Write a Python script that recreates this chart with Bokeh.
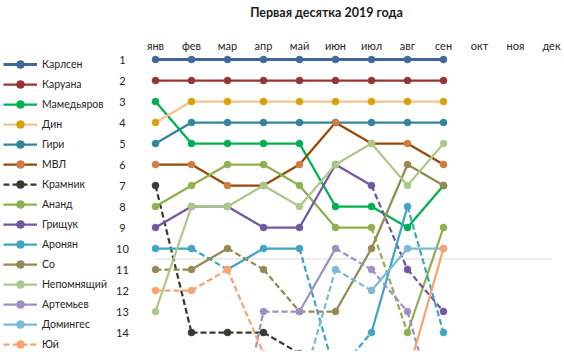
from bokeh.plotting import figure
from bokeh.models import Range1d, ColumnDataSource, Legend, LegendItem, Label
from bokeh.embed import file_html
from bokeh.resources import INLINE
from bokeh.core.properties import value

N = None

title_text = "Первая десятка 2019 года"
months = ["янв", "фев", "мар", "апр", "май", "июн", "июл", "авг", "сен", "окт", "ноя", "дек"]
rank_ticks = [1, 2, 3, 4, 5, 6, 7, 8, 9, 10, 11, 12, 13, 14]
cutoff = 10  # top-10 boundary

players = ["Карлсен", "Каруана", "Мамедьяров", "Дин", "Гири", "МВЛ", "Крамник",
           "Ананд", "Грищук", "Аронян", "Со", "Непомнящий", "Артемьев", "Домингес", "Юй"]

carlsen = [1, 1, 1, 1, 1, 1, 1, 1, 1]
caruana = [2, 2, 2, 2, 2, 2, 2, 2, 2]
mamedyarov = [3, 5, 5, 5, 5, 8, 8, 9, 7]
ding = [4, 3, 3, 3, 3, 3, 3, 3, 3]
giri = [5, 4, 4, 4, 4, 4, 4, 4, 4]
mvl = [6, 6, 7, 7, 6, 4, 5, 5, 6]
kramnik = [7, 14, 14, 14, 15, N, N, N, N]
anand = [8, 7, 6, 6, 7, 9, 9, 14, 9]
grischuk = [9, 8, 8, 9, 9, 6, 7, 11, 13]
aronian = [10, 10, 11, 10, 10, 16, 14, 8, 14]
so = [11, 11, 10, 11, 13, 13, 10, 6, 7]
nepo = [13, 8, 8, 7, 8, 6, 5, 7, 5]
artemiev = [N, N, 21, 13, 13, 10, 11, 13, 19]
dominguez = [N, N, N, N, 17, 11, 12, 10, 10]
yu = [12, 12, 11, 15, N, N, N, 16, 10]

series = [carlsen, caruana, mamedyarov, ding, giri, mvl, kramnik, anand,
          grischuk, aronian, so, nepo, artemiev, dominguez, yu]

line_colors = ["#3F6797", "#943634", "#00B050", "#FAC090", "#31859C", "#984807", "#3B3A30",
               "#8EB04E", "#7257A1", "#40A5C0", "#948A54", "#ADC98A", "#9F8FC4", "#7BBAD2", "#F9A470"]
marker_colors = ["#3F6797", "#943634", "#00B050", "#D4A20A", "#31859C", "#D07B3F", "#3B3A30",
                 "#8EB04E", "#7257A1", "#40A5C0", "#948A54", "#ADC98A", "#9F8FC4", "#7BBAD2", "#F9A470"]
line_widths = [3] + [2.25] * 14
legend_dashed = ["Крамник", "Юй"]

FONT = "Lato"
DASH = "6 3"

# layout mapping (screen)
W, H = 564, 356
X0_PX, DX_PX = 155, 36
Y0_PX, DY_PX = 59, 21
x_start = -X0_PX / DX_PX
x_end = x_start + W / DX_PX
y_top = 1 - Y0_PX / DY_PX
y_bot = 1 + (H - 6 - Y0_PX) / DY_PX

p = figure(width=W, height=H, output_backend="svg", toolbar_location=None,
           x_range=Range1d(x_start, x_end), y_range=Range1d(y_bot, y_top),
           x_axis_location=None, y_axis_location=None, min_border=0,
           min_border_bottom=6)
p.grid.visible = False
p.outline_line_color = None
p.background_fill_color = "white"
p.border_fill_color = "white"

month_idx = list(range(len(months)))

# grey top-10 separator
p.segment(x0=[month_idx[0]], y0=[cutoff + 0.5], x1=[month_idx[-1]], y1=[cutoff + 0.5],
          line_color="#D9D9D9", line_width=1)

items = []
for name, vals, lc, mc, lw in zip(players, series, line_colors, marker_colors, line_widths):
    solid = dict(x0=[], y0=[], x1=[], y1=[])
    dashed = dict(x0=[], y0=[], x1=[], y1=[])
    for i in range(len(vals) - 1):
        a, b = vals[i], vals[i + 1]
        if a is None or b is None:
            continue
        tgt = dashed if b > cutoff else solid
        tgt["x0"].append(month_idx[i]); tgt["y0"].append(a)
        tgt["x1"].append(month_idx[i + 1]); tgt["y1"].append(b)
    r_solid = r_dash = None
    if solid["x0"]:
        r_solid = p.segment("x0", "y0", "x1", "y1", source=ColumnDataSource(solid),
                            line_color=lc, line_width=lw)
    if dashed["x0"]:
        r_dash = p.segment("x0", "y0", "x1", "y1", source=ColumnDataSource(dashed),
                           line_color=lc, line_width=lw, line_dash=DASH)
    px = [month_idx[i] for i, v in enumerate(vals) if v is not None]
    py = [v for v in vals if v is not None]
    r_pts = p.scatter(px, py, size=7, fill_color=mc, line_color=mc, line_width=0.5)
    rep = r_dash if (name in legend_dashed and r_dash is not None) else (r_solid or r_dash)
    items.append(LegendItem(label=name, renderers=[rep, r_pts]))

# rank labels and month labels
p.text(x=[-0.92] * len(rank_ticks), y=rank_ticks, text=[str(r) for r in rank_ticks],
       text_font=value(FONT), text_font_size=value("11px"), text_align="center",
       text_baseline="middle", text_color="#262626")
p.text(x=month_idx, y=[0.33] * len(months), text=months,
       text_font=value(FONT), text_font_size=value("11px"), text_align="center",
       text_baseline="middle", text_color="#262626")

legend = Legend(items=items, location=(3, -4), orientation="vertical",
                glyph_width=34, glyph_height=20, label_height=20, spacing=0,
                padding=0, margin=0, label_standoff=5,
                label_text_font=FONT, label_text_font_size="10.5px",
                label_text_color="#262626", label_text_baseline="middle",
                border_line_alpha=0, background_fill_alpha=0)
p.add_layout(legend)

p.add_layout(Label(x=326, y=H - 6 - 12, x_units="screen", y_units="screen", text=title_text,
                   text_align="center", text_baseline="middle", text_font=FONT,
                   text_font_style="bold", text_font_size="12.5px", text_color="#1a1a1a"))

open("out.html", "w").write(file_html(p, INLINE))
